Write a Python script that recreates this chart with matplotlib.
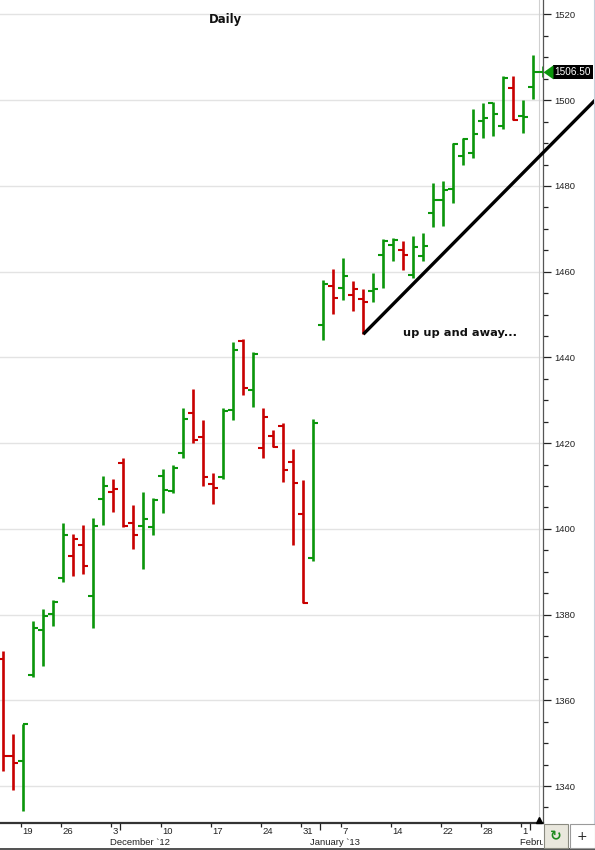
import matplotlib
matplotlib.use('Agg')
import matplotlib.pyplot as plt
from matplotlib.collections import LineCollection
from matplotlib.patches import Rectangle, Polygon
from matplotlib.lines import Line2D
import matplotlib.transforms as mtrans
import numpy as np

plt.rcParams['font.family'] = ['Liberation Sans', 'DejaVu Sans']

# ---------------- data (daily OHLC bars) ----------------
opens = [1369.7, 1347.1, 1345.9, 1365.8, 1376.4, 1380.2, 1388.5, 1393.6, 1396.2, 1384.3,
         1407.0, 1408.6, 1415.4, 1401.4, 1400.7, 1400.4, 1412.3, 1408.8, 1417.7, 1427.1,
         1421.4, 1410.5, 1412.1, 1427.8, 1443.9, 1432.4, 1418.9, 1421.6, 1424.0, 1415.6,
         1403.5, 1393.3, 1447.5, 1456.7, 1456.2, 1454.6, 1453.6, 1455.5, 1464.0, 1466.3,
         1465.1, 1459.3, 1463.7, 1473.8, 1476.8, 1479.3, 1487.1, 1487.7, 1495.1, 1499.4,
         1494.1, 1502.9, 1496.3, 1503.1, 1506.5]
highs = [1371.6, 1352.2, 1354.4, 1378.6, 1381.2, 1383.5, 1401.3, 1398.7, 1400.8, 1402.5,
         1412.3, 1411.6, 1416.5, 1405.5, 1408.5, 1407.3, 1413.9, 1414.8, 1428.2, 1432.6,
         1425.4, 1413.0, 1428.1, 1443.5, 1444.2, 1441.3, 1428.3, 1423.0, 1424.6, 1418.6,
         1411.3, 1425.7, 1458.1, 1460.6, 1463.2, 1457.8, 1456.0, 1459.7, 1467.6, 1467.9,
         1467.2, 1468.3, 1469.0, 1480.7, 1481.1, 1490.0, 1491.2, 1498.0, 1499.4, 1499.6,
         1505.7, 1505.7, 1500.1, 1510.6, 1508.0]
lows = [1343.4, 1339.0, 1334.1, 1365.5, 1367.9, 1377.3, 1387.7, 1389.0, 1389.5, 1376.9,
        1400.9, 1403.9, 1400.4, 1395.3, 1390.6, 1398.6, 1403.6, 1408.4, 1416.6, 1420.0,
        1410.0, 1405.9, 1411.7, 1425.5, 1431.3, 1428.5, 1416.6, 1419.0, 1410.9, 1396.2,
        1382.6, 1392.6, 1444.1, 1450.1, 1453.4, 1450.9, 1445.4, 1452.9, 1456.1, 1462.6,
        1460.5, 1458.5, 1462.4, 1470.5, 1470.7, 1476.0, 1484.8, 1486.6, 1491.2, 1491.6,
        1493.3, 1495.5, 1492.3, 1500.2, 1505.5]
closes = [1347.1, 1345.3, 1354.4, 1376.9, 1379.6, 1382.9, 1398.6, 1397.6, 1391.3, 1400.7,
          1410.0, 1409.3, 1400.6, 1398.6, 1402.3, 1406.7, 1409.1, 1414.2, 1425.7, 1420.7,
          1412.1, 1409.5, 1427.5, 1441.7, 1432.9, 1440.8, 1426.1, 1419.1, 1413.7, 1410.7,
          1382.6, 1424.7, 1457.1, 1453.9, 1459.1, 1456.0, 1452.9, 1455.9, 1467.1, 1467.5,
          1464.0, 1465.7, 1466.1, 1476.8, 1479.1, 1489.7, 1491.0, 1492.2, 1495.8, 1496.8,
          1505.2, 1495.5, 1496.0, 1506.5, 1506.5]

day_tick_bars = [2, 6, 11, 16, 21, 26, 30, 34, 39, 44, 48, 52]
day_tick_labels = ['19', '26', '3', '10', '17', '24', '31', '7', '14', '22', '28', '1']
month_tick_bars = [12, 32, 53]
month_labels = ['December `12', 'January `13', 'February `13']
price_major = list(range(1340, 1521, 20))
price_minor = list(range(1335, 1524, 5))
last_price = 1506.50
trend_start_bar = 36
trend_end_x, trend_end_y = 59.17, 1500.0

GREEN = '#0b960b'
RED = '#c80000'

W, H = 595, 850
fig = plt.figure(figsize=(W / 100, H / 100), dpi=100)
fig.patch.set_facecolor('white')
ax = fig.add_axes([0, 27 / H, 543 / W, 823 / H])
ax.set_facecolor('white')

n = len(opens)
xs = np.arange(n)
colors = []
for i in range(n):
    ref = closes[i - 1] if i > 0 else opens[i]
    colors.append(GREEN if closes[i] >= ref else RED)

tick_len = 0.38
vsegs = [[(xs[i], lows[i]), (xs[i], highs[i])] for i in range(n)]
osegs = [[(xs[i] - tick_len - 0.12, opens[i]), (xs[i], opens[i])] for i in range(n)]
csegs = [[(xs[i], closes[i]), (xs[i] + tick_len + 0.12, closes[i])] for i in range(n)]
ax.add_collection(LineCollection(vsegs, colors=colors, linewidths=1.9, capstyle='butt', zorder=3))
ax.add_collection(LineCollection(osegs, colors=colors, linewidths=1.5, capstyle='butt', zorder=3))
ax.add_collection(LineCollection(csegs, colors=colors, linewidths=1.5, capstyle='butt', zorder=3))

ax.set_xlim(-0.33, 53.97)
ax.set_ylim(1331.37, 1523.38)

# grid
for p in price_major:
    ax.axhline(p, color='#e3e3e3', lw=1.0, zorder=1)
ax.axvline(53.6, color='#d0d0d0', lw=0.8, zorder=1)

# spines
for s in ['top', 'left']:
    ax.spines[s].set_visible(False)
ax.spines['right'].set_color('#555555')
ax.spines['right'].set_linewidth(0.9)
ax.spines['bottom'].set_color('#333333')
ax.spines['bottom'].set_linewidth(1.6)

# y axis on right
ax.yaxis.tick_right()
ax.set_yticks(price_major)
ax.set_yticks(price_minor, minor=True)
ax.set_yticklabels([str(p) for p in price_major])
ax.tick_params(axis='y', which='major', length=6, width=0.9, pad=2, labelsize=6.8,
               colors='#222222', direction='out')
ax.tick_params(axis='y', which='minor', length=3.3, width=0.9, colors='#222222', direction='out')

# x axis ticks
ax.set_xticks([b - 0.27 for b in day_tick_bars])
ax.set_xticklabels([''] * len(day_tick_bars))
ax.set_xticks([b - 0.3 for b in month_tick_bars], minor=True)
ax.tick_params(axis='x', which='major', length=2.8, width=0.9, colors='#222222', direction='out')
ax.tick_params(axis='x', which='minor', length=5.0, width=0.9, colors='#222222', direction='out')

clip_bb = mtrans.TransformedBbox(mtrans.Bbox([[0, 0], [543 / W, 1]]), fig.transFigure)
bt = mtrans.blended_transform_factory(ax.transData, fig.transFigure)
for b, lab in zip(day_tick_bars, day_tick_labels):
    ax.text(b - 0.27 + 0.15, 1 - 831.7 / H, lab, transform=bt, ha='left', va='center',
            fontsize=6.8, color='#222222', clip_on=False)
for b, lab in zip(month_tick_bars, month_labels):
    t = ax.text(b - 0.3 - 1.0, 1 - 842.3 / H, lab, transform=bt, ha='left', va='center',
                fontsize=6.8, color='#222222')
    t.set_clip_on(True)
    t.set_clip_box(clip_bb)

# trend line
ax.plot([trend_start_bar, trend_end_x], [lows[trend_start_bar], trend_end_y], color='black',
        lw=2.4, solid_capstyle='butt', zorder=5, clip_on=False)

# texts
ax.text(225 / 543, 1 - 19 / 823, 'Daily', transform=ax.transAxes, ha='center', va='center',
        fontsize=8.4, fontweight='bold', family='DejaVu Sans', color='#111111')
ax.text(403 / 543, 1 - 333 / 823, 'up up and away...', transform=ax.transAxes, ha='left',
        va='center', fontsize=8.2, fontweight='bold', family='DejaVu Sans', color='#111111')

# current-time marker at bottom
mt = mtrans.blended_transform_factory(ax.transData, ax.transAxes)
ax.plot([53.6], [0.004], marker='^', color='black', markersize=4.5, transform=mt, clip_on=False,
        zorder=6)

# last price label
lt = mtrans.blended_transform_factory(fig.transFigure, ax.transData)
ax.add_patch(Rectangle((553 / W, last_price - 1.6), 40 / W, 3.2, transform=lt,
                       facecolor='black', edgecolor='none', clip_on=False, zorder=7))
ax.add_patch(Polygon([(543.5 / W, last_price), (553.5 / W, last_price - 1.65),
                      (553.5 / W, last_price + 1.65)], closed=True, transform=lt,
                     facecolor=GREEN, edgecolor='none', clip_on=False, zorder=7))
ax.text(573 / W, last_price, f'{last_price:.2f}', transform=lt, ha='center', va='center',
        fontsize=7.2, color='white', clip_on=False, zorder=8)

# bottom buttons and frame lines
fig.patches.append(Rectangle((544 / W, 1 - 848 / H), 24 / W, 24 / H, transform=fig.transFigure,
                             facecolor='#e9e7dd', edgecolor='#8a8a80', lw=0.8, zorder=5))
fig.patches.append(Rectangle((570 / W, 1 - 848 / H), 24.5 / W, 24 / H, transform=fig.transFigure,
                             facecolor='white', edgecolor='#9a9a9a', lw=0.8, zorder=5))
fig.text(556 / W, 1 - 836 / H, '\u21bb', ha='center', va='center', fontsize=10,
         color='#1d8a1d', family='DejaVu Sans', fontweight='bold', zorder=6)
fig.text(582 / W, 1 - 836 / H, '+', ha='center', va='center', fontsize=9,
         color='#222222', family='DejaVu Sans', zorder=6)
fig.lines.append(Line2D([0, 1], [1 - 848.5 / H, 1 - 848.5 / H], transform=fig.transFigure,
                        color='#333333', lw=1.2, zorder=4))
fig.lines.append(Line2D([593.5 / W, 593.5 / W], [1 - 823 / H, 1], transform=fig.transFigure,
                        color='#c8d0dc', lw=0.8, zorder=4))

fig.savefig('out.png', dpi=100, facecolor='white')
